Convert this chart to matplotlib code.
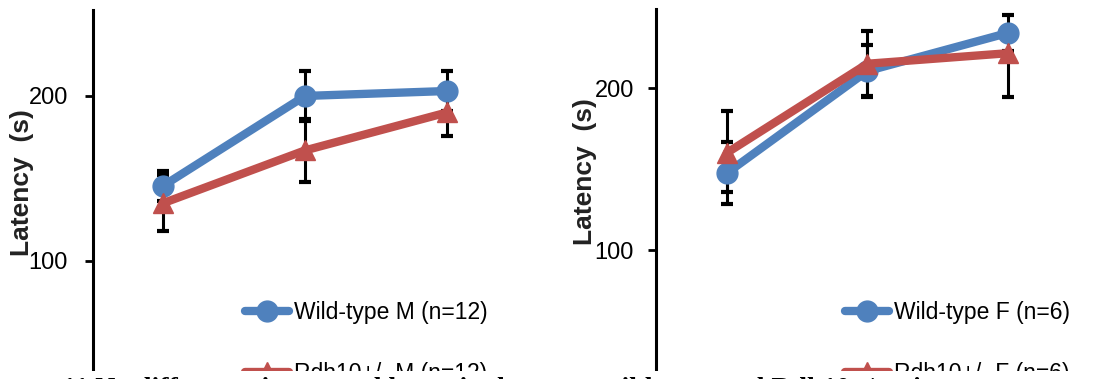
import matplotlib
matplotlib.use("Agg")
import matplotlib.pyplot as plt
from matplotlib.patches import Rectangle

# ---- data ----
sessions = [0, 1, 2]

male_wt = [145.5, 200, 203]
male_wt_lo = [9, 15, 12]
male_wt_hi = [9, 15, 12]
male_het = [135, 167, 190]
male_het_lo = [17, 19, 14]
male_het_hi = [17, 19, 14]

female_wt = [147.5, 210.5, 234]
female_wt_lo = [19, 16, 11]
female_wt_hi = [19, 16, 11]
female_het = [160, 215, 221.5]
female_het_lo = [24, 20, 27]
female_het_hi = [26, 20, 0]

labels_m = ["Wild-type M (n=12)", "Rdh10+/- M (n=12)"]
labels_f = ["Wild-type F (n=6)", "Rdh10+/- F (n=6)"]
yticks = [100, 200]
ylabel = "Latency  (s)"
caption = "11 No difference in rotarod latencies between wild-type and Rdh10+/- mice"

BLUE = "#4F81BD"
RED = "#C0504D"
SANS = ["Liberation Sans", "DejaVu Sans"]

W, H = 1103, 379
fig = plt.figure(figsize=(W / 100, H / 100), dpi=100)


def px_axes(x0, x1, y_top, y_bot):
    return fig.add_axes([x0 / W, (H - y_bot) / H, (x1 - x0) / W, (y_bot - y_top) / H])


def panel(ax, wt, wlo, whi, het, hlo, hhi, labels, xlim, ylim, lab_xy, leg_xy, tickpad):
    ax.errorbar(sessions, wt, yerr=[wlo, whi], fmt="none", ecolor="black",
                elinewidth=2.2, capsize=4, capthick=3, zorder=2)
    ax.errorbar(sessions, het, yerr=[hlo, hhi], fmt="none", ecolor="black",
                elinewidth=2.2, capsize=4, capthick=3, zorder=2)
    l1, = ax.plot(sessions, wt, color=BLUE, lw=6, marker="o", ms=15,
                  solid_capstyle="round", zorder=3, label=labels[0])
    l2, = ax.plot(sessions, het, color=RED, lw=6, marker="^", ms=15,
                  solid_capstyle="round", zorder=4, label=labels[1])
    ax.set_xlim(*xlim)
    ax.set_ylim(*ylim)
    for s in ["top", "right", "bottom"]:
        ax.spines[s].set_visible(False)
    ax.spines["left"].set_linewidth(2.2)
    ax.set_xticks([])
    ax.set_yticks(yticks)
    ax.tick_params(axis="y", length=6, width=2, pad=tickpad, labelsize=17)
    for t in ax.get_yticklabels():
        t.set_family(SANS)
    fig.text(lab_xy[0] / W, (H - lab_xy[1]) / H, ylabel, rotation=90,
             ha="center", va="center", fontsize=19, fontweight="bold",
             family=SANS, color="#222222")
    leg = ax.legend(handles=[l1, l2], loc="upper left",
                    bbox_to_anchor=(leg_xy[0] / W, (H - leg_xy[1]) / H),
                    bbox_transform=fig.transFigure, frameon=False,
                    borderpad=0, borderaxespad=0, handlelength=1.9,
                    handletextpad=0.22, labelspacing=1.65,
                    prop={"family": SANS, "size": 16.5})
    return leg


ax1 = px_axes(93, 518, 10, 371)
panel(ax1, male_wt, male_wt_lo, male_wt_hi, male_het, male_het_lo, male_het_hi,
      labels_m, (-0.493, 2.5), (33.3, 252.1), (22, 183), (245, 301), 12)

ax2 = px_axes(656, 1078, 9, 371)
panel(ax2, female_wt, female_wt_lo, female_wt_hi, female_het, female_het_lo, female_het_hi,
      labels_f, (-0.505, 2.5), (25.3, 248.8), (585, 172), (845, 301), 10)

# white band where the caption of the page begins
fig.add_artist(Rectangle((0, 0), 1, 8 / H, transform=fig.transFigure,
                         facecolor="white", edgecolor="none", zorder=20))
fig.text(62 / W, (H - 376.5) / H, caption, ha="left", va="top", fontsize=20,
         fontweight="bold", family=["Liberation Serif", "DejaVu Serif"], zorder=21)

fig.savefig("out.png", dpi=100)
